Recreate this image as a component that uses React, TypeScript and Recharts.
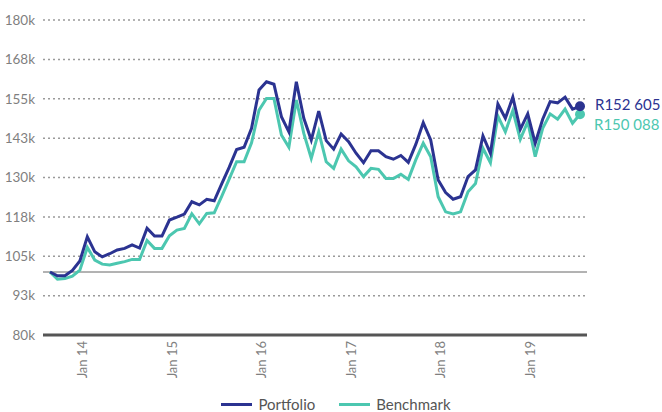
import React from 'react';
import {
  LineChart,
  Line,
  XAxis,
  YAxis,
  CartesianGrid,
  ReferenceLine,
} from 'recharts';

// Monthly growth of R100 000 invested, Sep 2013 to Aug 2019
const months = [
  'Sep 13', 'Oct 13', 'Nov 13', 'Dec 13',
  'Jan 14', 'Feb 14', 'Mar 14', 'Apr 14', 'May 14', 'Jun 14', 'Jul 14', 'Aug 14', 'Sep 14', 'Oct 14', 'Nov 14', 'Dec 14',
  'Jan 15', 'Feb 15', 'Mar 15', 'Apr 15', 'May 15', 'Jun 15', 'Jul 15', 'Aug 15', 'Sep 15', 'Oct 15', 'Nov 15', 'Dec 15',
  'Jan 16', 'Feb 16', 'Mar 16', 'Apr 16', 'May 16', 'Jun 16', 'Jul 16', 'Aug 16', 'Sep 16', 'Oct 16', 'Nov 16', 'Dec 16',
  'Jan 17', 'Feb 17', 'Mar 17', 'Apr 17', 'May 17', 'Jun 17', 'Jul 17', 'Aug 17', 'Sep 17', 'Oct 17', 'Nov 17', 'Dec 17',
  'Jan 18', 'Feb 18', 'Mar 18', 'Apr 18', 'May 18', 'Jun 18', 'Jul 18', 'Aug 18', 'Sep 18', 'Oct 18', 'Nov 18', 'Dec 18',
  'Jan 19', 'Feb 19', 'Mar 19', 'Apr 19', 'May 19', 'Jun 19', 'Jul 19', 'Aug 19',
];

// values in R thousands
const portfolio = [
  100, 98.8, 98.8, 100.5,
  103.5, 111.2, 106.4, 104.8, 105.8, 107, 107.5, 108.6, 107.6, 113.9, 111.4, 111.4,
  116.5, 117.4, 118.4, 122.3, 121.3, 123.1, 122.6, 128, 133.2, 138.9, 139.6, 145.6,
  157.8, 160.4, 159.6, 149.3, 144.5, 160.4, 148.8, 141.9, 151.1, 141.7, 139, 143.8,
  141.4, 137.7, 134.7, 138.5, 138.5, 136.6, 135.8, 137, 134.8, 140.5, 147.4, 141.9,
  129.2, 125.2, 123.1, 123.9, 130.3, 132.4, 143.2, 137.7, 153.3, 148.8, 155.5, 145.3,
  150.2, 140.9, 148.5, 154.1, 153.7, 155.5, 151.7, 152.605,
];

const benchmark = [
  100, 97.7, 97.9, 98.7,
  100.6, 107.8, 103.8, 102.5, 102.2, 102.8, 103.3, 104, 104, 110, 107.5, 107.5,
  111.5, 113.3, 113.8, 118.5, 115.3, 118.6, 118.8, 124, 129.5, 135, 135, 141,
  151.4, 155.1, 155.1, 143.5, 139.6, 154.6, 144, 136.1, 144.5, 135, 132.9, 139,
  135.3, 133.4, 130.3, 132.9, 132.6, 129.7, 129.7, 131, 129.4, 135.6, 140.9, 136.6,
  123.9, 119.1, 118.4, 119.1, 125.5, 128.1, 139.3, 134.7, 149.5, 144.5, 151.2, 142.1,
  147.7, 136.6, 145.6, 150.2, 148.5, 151.7, 147.2, 150.088,
];

const xTicks = ['Jan 14', 'Jan 15', 'Jan 16', 'Jan 17', 'Jan 18', 'Jan 19'];
const yTicks = [80000, 92500, 105000, 117500, 130000, 142500, 155000, 167500, 180000];

const endLabels = ['R152 605', 'R150 088'];

const PORTFOLIO = '#2B3391';
const BENCHMARK = '#4CC7B0';
const FONT = 'Lato, "Open Sans", sans-serif';

const data = months.map((m, i) => ({
  month: m,
  portfolio: portfolio[i] * 1000,
  benchmark: benchmark[i] * 1000,
}));

const last = months.length - 1;

const makeEndDot = (color: string, label: string, dx: number, dy: number) => (props: any) => {
  const { cx, cy, index } = props;
  if (index !== last) return <g key={`d-${index}`} />;
  return (
    <g key={`d-${index}`}>
      <circle cx={cx} cy={cy} r={5} fill={color} />
      <text
        x={cx + dx}
        y={cy + dy}
        fill={color}
        fontSize={15}
        fontFamily={FONT}
        dominantBaseline="middle"
      >
        {label}
      </text>
    </g>
  );
};

const LegendBox = () => (
  <div
    style={{
      position: 'absolute',
      top: 395,
      left: 0,
      width: 662,
      display: 'flex',
      justifyContent: 'center',
      fontFamily: FONT,
      fontSize: 15,
      color: '#555',
      lineHeight: '18px',
    }}
  >
    <span style={{ display: 'flex', alignItems: 'center', marginRight: 24 }}>
      <span style={{ width: 31, height: 3, background: PORTFOLIO, marginRight: 6, marginLeft: 10 }} />
      Portfolio
    </span>
    <span style={{ display: 'flex', alignItems: 'center' }}>
      <span style={{ width: 31, height: 3, background: BENCHMARK, marginRight: 6 }} />
      Benchmark
    </span>
  </div>
);

export default function App() {
  return (
    <div style={{ position: 'relative', width: 662, height: 412, background: '#fff' }}>
      <style>{'body{margin:0}'}</style>
      <LineChart
        width={662}
        height={412}
        data={data}
        margin={{ top: 20, right: 75, left: 0, bottom: 20 }}
      >
        <CartesianGrid
          vertical={false}
          stroke="#9a9a9a"
          strokeDasharray="2 3"
          strokeWidth={1.5}
        />
        <XAxis
          dataKey="month"
          ticks={xTicks}
          interval={0}
          padding={{ left: 7, right: 7 }}
          axisLine={{ stroke: '#555', strokeWidth: 3 }}
          tickLine={false}
          angle={-90}
          textAnchor="end"
          height={57}
          tick={{ fill: '#7f7f7f', fontSize: 13, fontFamily: FONT, dx: -2 }}
          tickMargin={0}
        />
        <YAxis
          domain={[80000, 180000]}
          ticks={yTicks}
          width={43}
          axisLine={false}
          tickLine={false}
          tickMargin={2}
          tick={{ fill: '#7f7f7f', fontSize: 13.5, fontFamily: FONT }}
          tickFormatter={(v: number) => `${Math.round(v / 1000)}k`}
        />
        <ReferenceLine y={100000} stroke="#666" strokeWidth={1} />
        <Line
          type="linear"
          dataKey="benchmark"
          stroke={BENCHMARK}
          strokeWidth={3}
          dot={makeEndDot(BENCHMARK, endLabels[1], 14, 12)}
          isAnimationActive={false}
        />
        <Line
          type="linear"
          dataKey="portfolio"
          stroke={PORTFOLIO}
          strokeWidth={3}
          dot={makeEndDot(PORTFOLIO, endLabels[0], 15, 0)}
          isAnimationActive={false}
        />
      </LineChart>
      <LegendBox />
    </div>
  );
}
